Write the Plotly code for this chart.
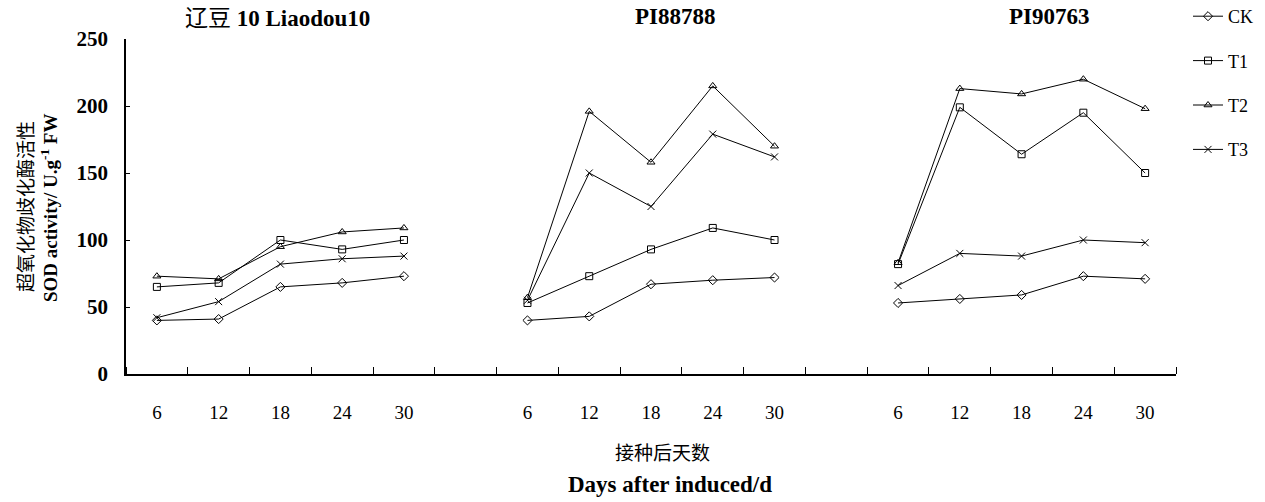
import plotly.graph_objects as go

days = [6, 12, 18, 24, 30]
cultivars = ["辽豆10 Liaodou10", "PI88788", "PI90763"]
series_names = ["CK", "T1", "T2", "T3"]

ck = [[40, 41, 65, 68, 73], [40, 43, 67, 70, 72], [53, 56, 59, 73, 71]]
t1 = [[65, 68, 100, 93, 100], [53, 73, 93, 109, 100], [82, 199, 164, 195, 150]]
t2 = [[73, 71, 95, 106, 109], [57, 196, 158, 215, 170], [83, 213, 209, 220, 198]]
t3 = [[42, 54, 82, 86, 88], [55, 150, 125, 179, 162], [66, 90, 88, 100, 98]]

symbols = ["diamond-open", "square-open", "triangle-up-open", "x-thin-open"]
data = [ck, t1, t2, t3]

SERIF = "Liberation Serif, Times New Roman, serif"
CJK = "Noto Sans CJK SC"

fig = go.Figure()
for si, (name, vals, sym) in enumerate(zip(series_names, data, symbols)):
    for gi in range(len(cultivars)):
        xs = [gi * 6 + di + 1 for di in range(len(days))]
        fig.add_trace(go.Scatter(
            x=xs, y=vals[gi], mode="lines+markers", name=name,
            legendgroup=name, showlegend=(gi == 0),
            line=dict(color="black", width=1),
            marker=dict(symbol=sym, size=7, color="black",
                        line=dict(color="black", width=1)),
        ))

tickvals, ticktext = [], []
for gi in range(len(cultivars)):
    for di, d in enumerate(days):
        tickvals.append(gi * 6 + di + 1)
        ticktext.append(str(d))

L, R, T, B = 126, 89, 39, 128
W, H = 1265, 502
pw, ph = W - L - R, H - T - B

def px(x):
    return (x - L) / pw

def py(y):
    return (H - B - y) / ph

fig.update_layout(
    width=W, height=H,
    margin=dict(l=L, r=R, t=T, b=B, autoexpand=False),
    plot_bgcolor="white", paper_bgcolor="white",
    font=dict(family=SERIF, color="black", size=17),
    legend=dict(x=px(1188), y=py(-2), xanchor="left", yanchor="top",
                font=dict(family=SERIF, size=18),
                tracegroupgap=18, bgcolor="rgba(0,0,0,0)"),
    xaxis=dict(range=[0.5, 17.5], tickvals=tickvals, ticktext=ticktext,
               ticks="", showgrid=False, zeroline=False,
               showline=True, linecolor="black", linewidth=1.5,
               tickfont=dict(family=SERIF, size=19),
               ticklabelstandoff=20,
               minor=dict(tick0=0.5, dtick=1, ticks="inside",
                          ticklen=7, tickcolor="black", tickwidth=1,
                          showgrid=False)),
    yaxis=dict(range=[0, 250], dtick=50, ticks="inside", ticklen=4,
               tickcolor="black", tickwidth=1, showgrid=False,
               zeroline=False, showline=True, linecolor="black",
               linewidth=1.5,
               tickfont=dict(family=SERIF, size=21, weight="bold"),
               ticklabelstandoff=12),
)

# subplot titles
title_font = dict(family=SERIF, size=23, weight="bold")
title_px = [277, 675, 1049]
title_text = [
    "<span style='font-family:Noto Sans CJK SC;font-weight:normal'>辽豆</span> 10 Liaodou10",
    cultivars[1], cultivars[2],
]
for xp, t in zip(title_px, title_text):
    fig.add_annotation(x=px(xp), xref="paper", xanchor="center",
                       y=py(16), yref="paper", yanchor="middle",
                       showarrow=False, text=t, font=title_font)

# y-axis titles (two lines)
fig.add_annotation(x=px(24), xref="paper", xanchor="center",
                   y=py(207), yref="paper", yanchor="middle",
                   showarrow=False, textangle=-90,
                   text="超氧化物歧化酶活性",
                   font=dict(family=CJK, size=19))
fig.add_annotation(x=px(49), xref="paper", xanchor="center",
                   y=py(208), yref="paper", yanchor="middle",
                   showarrow=False, textangle=-90,
                   text="SOD activity/ U.g<sup>-1</sup> FW",
                   font=dict(family=SERIF, size=19, weight="bold"))

# x-axis titles
fig.add_annotation(x=px(662), xref="paper", xanchor="center",
                   y=py(451), yref="paper", yanchor="middle",
                   showarrow=False, text="接种后天数",
                   font=dict(family=CJK, size=19))
fig.add_annotation(x=px(670), xref="paper", xanchor="center",
                   y=py(484), yref="paper", yanchor="middle",
                   showarrow=False, text="Days after induced/d",
                   font=dict(family=SERIF, size=23, weight="bold"))

fig.write_html("out.html")
